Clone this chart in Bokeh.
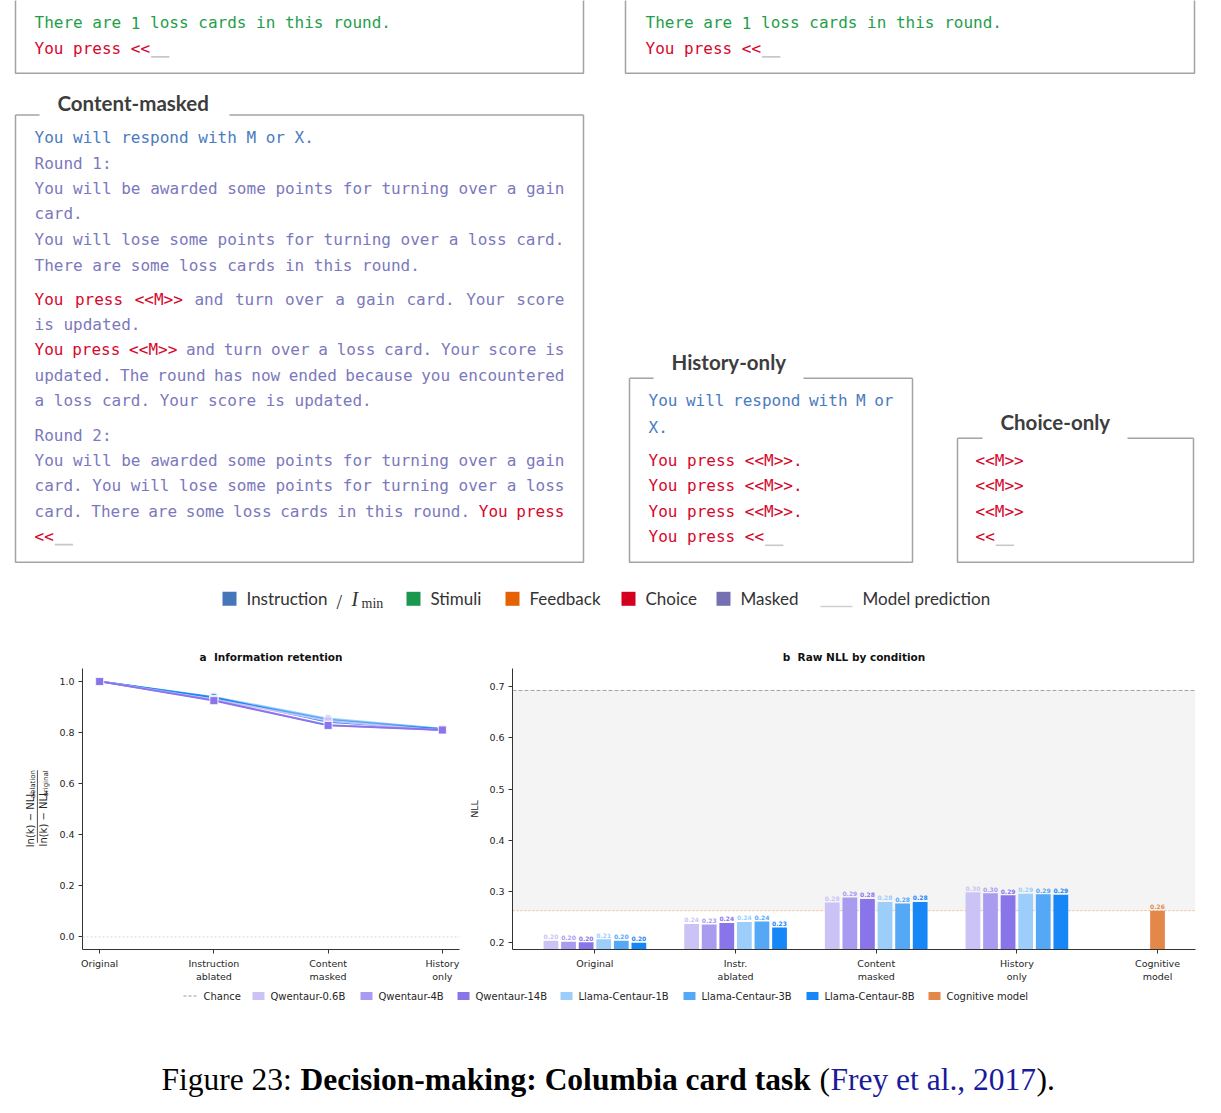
import math

from bokeh.core.properties import value
from bokeh.embed import file_html
from bokeh.layouts import column, row
from bokeh.models import (BoxAnnotation, FixedTicker, PrintfTickFormatter,
                          Range1d, Span)
from bokeh.plotting import figure
from bokeh.resources import INLINE

# ------------------------------------------------------------------ data
models = ["Qwentaur-0.6B", "Qwentaur-4B", "Qwentaur-14B",
          "Llama-Centaur-1B", "Llama-Centaur-3B", "Llama-Centaur-8B"]
model_colors = ["#cbc3f6", "#a99cf0", "#8a74ea",
                "#9dcdfb", "#55a8f5", "#1787f7"]
model_markers = ["square", "square", "square", "circle", "circle", "circle"]

# panel a: information retention, one value per model
conditions_a = ["Original", "Instruction\nablated", "Content\nmasked",
                "History\nonly"]
retention_original = [1.0, 1.0, 1.0, 1.0, 1.0, 1.0]
retention_instr = [0.930, 0.927, 0.925, 0.940, 0.936, 0.938]
retention_content = [0.846, 0.829, 0.828, 0.855, 0.851, 0.842]
retention_history = [0.808, 0.811, 0.810, 0.815, 0.814, 0.813]

# panel b: raw NLL, one value per model
conditions_b = ["Original", "Instr.\nablated", "Content\nmasked",
                "History\nonly", "Cognitive\nmodel"]
nll_original = [0.203, 0.201, 0.200, 0.206, 0.203, 0.199]
nll_instr = [0.236, 0.235, 0.238, 0.240, 0.241, 0.229]
nll_content = [0.278, 0.288, 0.285, 0.279, 0.276, 0.279]
nll_history = [0.298, 0.296, 0.292, 0.295, 0.294, 0.293]
cognitive_name = "Cognitive model"
cognitive_color = "#e4884a"
cognitive_nll = 0.262
chance_nll = 0.693

# prompt legend
prompt_roles = ["Instruction", "Stimuli", "Feedback", "Choice", "Masked"]
prompt_role_colors = ["#4676ba", "#1a9850", "#e66101", "#d3001f", "#7570b3"]

# ------------------------------------------------------------------ style
MONO = value("DejaVu Sans Mono")
CW = 0.6021 * 16    # advance of 16px DejaVu Sans Mono
BOX = "#a3a3a3"
TXT = "#262626"
role_color = {"instr": "#4a7bc0", "stim": "#1f9e4a",
              "choice": "#d6082c", "masked": "#7b78bd"}


def prompt_text(fig, lines, x0, width):
    """place monospace words line by line, justified where asked"""
    buckets = {}
    for y, segments, justify in lines:
        words = [(w, role) for text, role in segments for w in text.split()]
        n_chars = sum(len(w) for w, _ in words)
        gap = (width - n_chars * CW) / (len(words) - 1) if justify else CW
        x = x0
        for w, role in words:
            bx, by, bt = buckets.setdefault(role, ([], [], []))
            bx.append(x)
            by.append(y)
            bt.append(w)
            x += len(w) * CW + gap
    for role, (bx, by, bt) in buckets.items():
        fig.text(x=bx, y=by, text=bt, text_color=role_color[role],
                 text_font=MONO, text_font_size="16px",
                 text_align="left", text_baseline="alphabetic")
    # the blank the model has to fill
    y, segments, _ = lines[-1]
    xe = x0 + len(" ".join(t for t, _ in segments)) * CW
    fig.line([xe + 1, xe + 2 * CW], [y + 8.6, y + 8.6],
             line_color="#c8c8c8", line_width=1.6)


def frame(fig, left, right, top_y, bottom_y, gap=None, top_edge=True):
    xs = [[left, left, right, right]]
    ys = [[top_y, bottom_y, bottom_y, top_y]]
    if top_edge:
        if gap:
            xs += [[left, gap[0]], [gap[1], right]]
            ys += [[top_y, top_y], [top_y, top_y]]
        else:
            xs.append([left, right])
            ys.append([top_y, top_y])
    fig.multi_line(xs, ys, line_color=BOX, line_width=1.5)


def box_title(fig, x, y, text):
    fig.text(x=[x], y=[y], text=[text], text_color="#3d3d3d",
             text_font=value("Lato"), text_font_style="bold",
             text_font_size="20.5px", text_baseline="alphabetic")


def blank_figure(width, height, x_range, y_range):
    p = figure(width=width, height=height, x_range=x_range, y_range=y_range,
               output_backend="svg", toolbar_location=None,
               x_axis_location=None, y_axis_location=None, min_border=0)
    p.grid.visible = False
    p.outline_line_color = None
    return p


# ------------------------------------------------------------------ prompts
top = blank_figure(1213, 640, Range1d(0, 1213), Range1d(640, 0))

tail_prompt = [
    (22.2, [("There are 1 loss cards in this round.", "stim")], False),
    (47.8, [("You press <<", "choice")], False),
]
frame(top, 15, 583, -5, 72.7, top_edge=False)
frame(top, 625, 1194, -5, 72.7, top_edge=False)
prompt_text(top, tail_prompt, 34, 531)
prompt_text(top, tail_prompt, 645, 531)

masked_prompt = [
    (137.0, [("You will respond with M or X.", "instr")], False),
    (162.6, [("Round 1:", "masked")], False),
    (187.8, [("You will be awarded some points for turning over a gain",
              "masked")], True),
    (212.8, [("card.", "masked")], False),
    (238.5, [("You will lose some points for turning over a loss card.",
              "masked")], False),
    (264.5, [("There are some loss cards in this round.", "masked")], False),
    (298.8, [("You press <<M>>", "choice"),
             ("and turn over a gain card. Your score", "masked")], True),
    (323.8, [("is updated.", "masked")], False),
    (348.8, [("You press <<M>>", "choice"),
             ("and turn over a loss card. Your score is", "masked")], True),
    (374.5, [("updated. The round has now ended because you encountered",
              "masked")], True),
    (399.5, [("a loss card. Your score is updated.", "masked")], False),
    (434.5, [("Round 2:", "masked")], False),
    (459.5, [("You will be awarded some points for turning over a gain",
              "masked")], True),
    (484.5, [("card. You will lose some points for turning over a loss",
              "masked")], True),
    (510.5, [("card. There are some loss cards in this round.", "masked"),
             ("You press", "choice")], True),
    (535.5, [("<<", "choice")], False),
]
frame(top, 15, 583, 114.5, 561.7, gap=(39, 229))
box_title(top, 57, 102, "Content-masked")
prompt_text(top, masked_prompt, 34, 530)

history_prompt = [
    (400.2, [("You will respond with M or", "instr")], True),
    (426.8, [("X.", "instr")], False),
    (459.5, [("You press <<M>>.", "choice")], False),
    (485.2, [("You press <<M>>.", "choice")], False),
    (511.2, [("You press <<M>>.", "choice")], False),
    (536.2, [("You press <<", "choice")], False),
]
frame(top, 629, 912, 377.7, 561.7, gap=(653, 803))
box_title(top, 671, 361.5, "History-only")
prompt_text(top, history_prompt, 648, 245)

choice_prompt = [
    (459.5, [("<<M>>", "choice")], False),
    (485.2, [("<<M>>", "choice")], False),
    (511.2, [("<<M>>", "choice")], False),
    (536.2, [("<<", "choice")], False),
]
frame(top, 957, 1193, 437.7, 561.7, gap=(982, 1127))
box_title(top, 1000, 421.5, "Choice-only")
prompt_text(top, choice_prompt, 975, 200)

# legend of the prompt colours
legend_sq = [229, 413, 512, 628, 723]
legend_tx = [246, 430, 529, 645, 740]
LEG = dict(text_color="#333333", text_baseline="alphabetic")
top.rect(x=legend_sq, y=598.3, width=14, height=14,
         fill_color=prompt_role_colors, line_color=None)
top.text(x=legend_tx, y=598, text=prompt_roles, text_font=value("Lato"),
         text_font_size="17px", **LEG)
top.text(x=[336], y=[601], text=["/"], text_font=value("Liberation Serif"),
         text_font_size="20px", **LEG)
top.text(x=[351], y=[598], text=["I"], text_font=value("Liberation Serif"),
         text_font_style="italic", text_font_size="20px", **LEG)
top.text(x=[361], y=[602.5], text=["min"],
         text_font=value("Liberation Serif"), text_font_size="14px", **LEG)
top.line([820, 852], [606, 606], line_color="#d0d0d0", line_width=1.6)
top.text(x=[862], y=[598], text=["Model prediction"], text_font=value("Lato"),
         text_font_size="17px", **LEG)


# ------------------------------------------------------------------ charts
def style_axes(p):
    p.grid.visible = False
    p.outline_line_color = None
    p.title.align = "center"
    p.title.text_font = "DejaVu Sans"
    p.title.text_font_size = "10.5px"
    p.title.text_color = "#111111"
    p.title.standoff = 12
    for ax in p.axis:
        ax.axis_line_color = "#333333"
        ax.major_tick_line_color = "#333333"
        ax.minor_tick_line_color = None
        ax.major_tick_in = 0
        ax.major_tick_out = 4
        ax.major_label_standoff = 4
        ax.major_label_text_font = "DejaVu Sans"
        ax.major_label_text_font_size = "9.5px"
        ax.major_label_text_color = TXT
        ax.axis_label_text_font = "DejaVu Sans"
        ax.axis_label_text_font_size = "9.5px"
        ax.axis_label_text_font_style = "normal"
        ax.axis_label_text_color = TXT


# stacked fraction used as the y label of panel a (pieces placed by centre)
fy = blank_figure(52, 345, Range1d(0, 52), Range1d(0, 345))
frac = dict(text_font=value("DejaVu Sans"), text_color=TXT, angle=math.pi / 2,
            text_align="center", text_baseline="middle")
fy.text(x=[29.9, 43.0], y=[160, 161], text=["ln(k) \u2212 NLL"] * 2,
        text_font_size="10px", **frac)
fy.text(x=[32.1, 45.4], y=[203, 204], text=["ablation", "original"],
        text_font_size="7px", **frac)
fy.line([36.9, 36.9], [131, 220], line_color=TXT, line_width=0.8)

fa = figure(width=413, height=345, x_range=Range1d(-0.15, 3.15),
            y_range=Range1d(-0.0493, 1.0508), output_backend="svg",
            toolbar_location=None, title="a\u00a0\u00a0Information retention",
            min_border_left=30, min_border_right=6,
            min_border_top=28, min_border_bottom=36)
style_axes(fa)
fa.xaxis.ticker = FixedTicker(ticks=list(range(len(conditions_a))))
fa.xaxis.major_label_overrides = {i: c for i, c in enumerate(conditions_a)}
fa.yaxis.ticker = FixedTicker(ticks=[0.0, 0.2, 0.4, 0.6, 0.8, 1.0])
fa.yaxis.formatter = PrintfTickFormatter(format="%.1f")
fa.add_layout(Span(location=0, dimension="width", line_color="#cccccc",
                   line_dash="2 2", line_width=0.8))

retention = list(zip(retention_original, retention_instr,
                     retention_content, retention_history))
xa = list(range(len(conditions_a)))
for i in [3, 4, 5, 0, 1, 2]:
    fa.line(xa, list(retention[i]), line_color=model_colors[i],
            line_width=1.8)
    fa.scatter(xa, list(retention[i]), marker=model_markers[i], size=8,
               fill_color=model_colors[i], line_color="white",
               line_width=0.8)

fb = figure(width=748, height=345, x_range=Range1d(-0.586, 4.27),
            y_range=Range1d(0.186, 0.736), output_backend="svg",
            toolbar_location=None, title="b\u00a0\u00a0Raw NLL by condition",
            min_border_left=47, min_border_right=18,
            min_border_top=28, min_border_bottom=36)
style_axes(fb)
fb.xaxis.ticker = FixedTicker(ticks=list(range(len(conditions_b))))
fb.xaxis.major_label_overrides = {i: c for i, c in enumerate(conditions_b)}
fb.yaxis.ticker = FixedTicker(ticks=[0.2, 0.3, 0.4, 0.5, 0.6, 0.7])
fb.yaxis.formatter = PrintfTickFormatter(format="%.1f")
fb.yaxis.axis_label = "NLL"
fb.yaxis.axis_label_standoff = 6

fb.add_layout(BoxAnnotation(bottom=cognitive_nll, top=chance_nll,
                            fill_color="#f4f4f4", fill_alpha=1,
                            line_color=None, level="underlay"))
fb.add_layout(Span(location=cognitive_nll, dimension="width",
                   line_color="#f3b68b", line_dash="2 2", line_width=1,
                   level="underlay"))
fb.add_layout(Span(location=chance_nll, dimension="width",
                   line_color="#9a9a9a", line_dash="4 2", line_width=0.9))

nll = list(zip(nll_original, nll_instr, nll_content, nll_history))
step, bar_w = 0.125, 0.105
for i, color in enumerate(model_colors):
    xs = [c + (i - 2.5) * step for c in range(4)]
    vals = list(nll[i])
    fb.vbar(x=xs, top=vals, bottom=0, width=bar_w, fill_color=color,
            line_color=None)
    fb.text(x=xs, y=vals, text=["%.2f" % v for v in vals], text_color=color,
            text_font=value("DejaVu Sans"), text_font_size="6px",
            text_font_style="bold", text_align="center",
            text_baseline="bottom", y_offset=-1.5)
fb.vbar(x=[4], top=[cognitive_nll], bottom=0, width=bar_w,
        fill_color=cognitive_color, line_color=None)
fb.text(x=[4], y=[cognitive_nll], text=["%.2f" % cognitive_nll],
        text_color=cognitive_color, text_font=value("DejaVu Sans"),
        text_font_size="6px", text_font_style="bold", text_align="center",
        text_baseline="bottom", y_offset=-1.5)

# ------------------------------------------------------------------ legend + caption
bot = blank_figure(1213, 120, Range1d(0, 1213), Range1d(1105, 985))

LEG_Y = 995.5
bot.line([183, 198], [LEG_Y, LEG_Y], line_color="#9a9a9a", line_dash="3 2",
         line_width=1)
key_sq = [258, 366, 463, 566, 689, 812, 934]
key_tx = [270, 378, 475, 578, 701, 824, 946]
bot.rect(x=key_sq, y=LEG_Y, width=12, height=8,
         fill_color=model_colors + [cognitive_color], line_color=None)
bot.text(x=[203] + key_tx, y=LEG_Y, text=["Chance"] + models + [cognitive_name],
         text_color=TXT, text_font=value("DejaVu Sans"),
         text_font_size="10px", text_baseline="middle")

CAP_Y = 1079
cap = dict(text_font=value("Liberation Serif"), text_font_size="31.5px",
           text_baseline="alphabetic")
bot.text(x=[161], y=[CAP_Y], text=["Figure 23:"], text_color="black", **cap)
bot.text(x=[300], y=[CAP_Y], text=["Decision-making: Columbia card task"],
         text_color="black", text_font_style="bold", **cap)
bot.text(x=[819, 1036], y=[CAP_Y, CAP_Y], text=["(", ")."],
         text_color="black", **cap)
bot.text(x=[830], y=[CAP_Y], text=["Frey et al., 2017"], text_color="#1a1a9c",
         **cap)

page = column(top, row(fy, fa, fb), bot)
open("out.html", "w").write(file_html(page, INLINE))
